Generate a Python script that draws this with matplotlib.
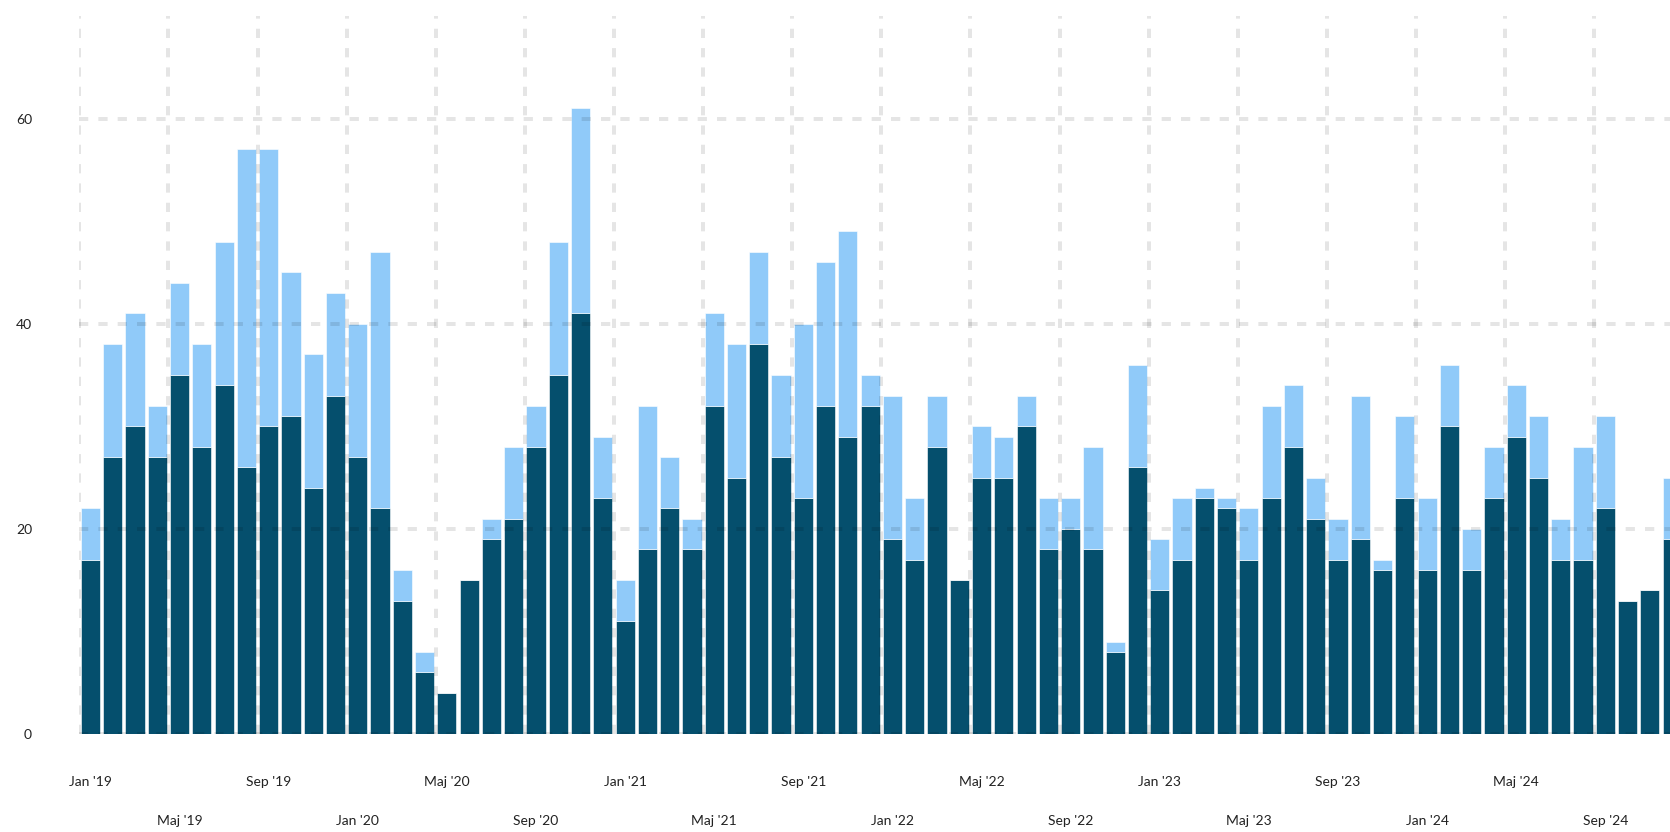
import matplotlib.pyplot as plt
import numpy as np

# data: monthly values Jan '19 - Dec '24
dark = [17, 27, 30, 27, 35, 28, 34, 26, 30, 31, 24, 33,
        27, 22, 13, 6, 4, 15, 19, 21, 28, 35, 41, 23,
        11, 18, 22, 18, 32, 25, 38, 27, 23, 32, 29, 32,
        19, 17, 28, 15, 25, 25, 30, 18, 20, 18, 8, 26,
        14, 17, 23, 22, 17, 23, 28, 21, 17, 19, 16, 23,
        16, 30, 16, 23, 29, 25, 17, 17, 22, 13, 14, 19]
light = [5, 11, 11, 5, 9, 10, 14, 31, 27, 14, 13, 10,
         13, 25, 3, 2, 0, 0, 2, 7, 4, 13, 20, 6,
         4, 14, 5, 3, 9, 13, 9, 8, 17, 14, 20, 3,
         14, 6, 5, 0, 5, 4, 3, 5, 3, 10, 1, 10,
         5, 6, 1, 1, 5, 9, 6, 4, 4, 14, 1, 8,
         7, 6, 4, 5, 5, 6, 4, 11, 9, 0, 0, 6]
tick_labels = ["Jan '19", "Maj '19", "Sep '19", "Jan '20", "Maj '20", "Sep '20",
               "Jan '21", "Maj '21", "Sep '21", "Jan '22", "Maj '22", "Sep '22",
               "Jan '23", "Maj '23", "Sep '23", "Jan '24", "Maj '24", "Sep '24"]
y_ticks = [0, 20, 40, 60]

plt.rcParams['font.family'] = ['Lato', 'DejaVu Sans']

fig = plt.figure(figsize=(16.7, 8.32), dpi=100)
# axes runs a little past the right edge, as in the original crop
ax = fig.add_axes([79.3/1670, 98/832, 1604/1670, 718/832])

x = np.arange(len(dark))
ax.bar(x, dark, width=0.86, color='#054f6d', edgecolor='white', linewidth=0.4, zorder=2)
ax.bar(x, light, bottom=dark, width=0.86, color='#90caf9', edgecolor='white', linewidth=0.4, zorder=2)

ax.set_xlim(-0.5, len(dark) - 0.5)
ax.set_ylim(0, 70)

# gridlines
grid_kw = dict(color=(0, 0, 0, 0.1), linewidth=2.9, linestyle=(0, (2.3, 2.5)), zorder=3)
for b in np.arange(-0.5, len(dark), 4):
    ax.axvline(b, **grid_kw)
for v in y_ticks:
    ax.axhline(v, **grid_kw)

for s in ax.spines.values():
    s.set_visible(False)

ax.set_yticks(y_ticks)
ax.set_yticklabels([str(v) for v in y_ticks])
ax.tick_params(axis='y', length=0, pad=34, labelsize=10, labelcolor='#222222')

pos = np.arange(0, len(dark), 4)
ax.set_xticks(pos[0::2])
ax.set_xticklabels(tick_labels[0::2])
ax.set_xticks(pos[1::2], minor=True)
ax.set_xticklabels(tick_labels[1::2], minor=True)
ax.tick_params(axis='x', which='major', length=0, pad=30, labelsize=10, labelcolor='#222222')
ax.tick_params(axis='x', which='minor', length=0, pad=58, labelsize=10, labelcolor='#222222')

plt.savefig('out.png', dpi=100)
